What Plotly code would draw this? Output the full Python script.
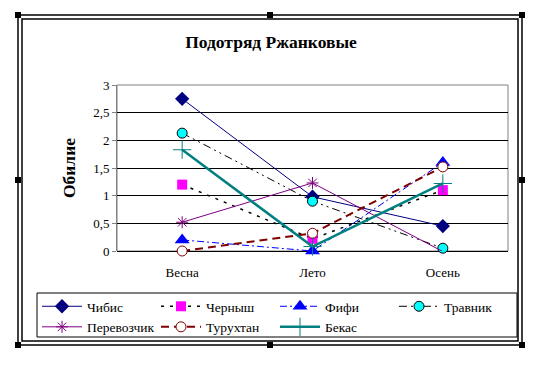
import plotly.graph_objects as go

categories = ["Весна", "Лето", "Осень"]
chibis = [2.75, 0.98, 0.45]
chernysh = [1.2, 0.22, 1.1]
fifi = [0.2, 0.0, 1.6]
travnik = [2.13, 0.9, 0.05]
perevozchik = [0.52, 1.23, -0.01]
turukhtan = [0.0, 0.32, 1.52]
bekas = [1.83, 0.08, 1.22]
y_ticks = [0, 0.5, 1, 1.5, 2, 2.5, 3]

W, H = 546, 367
L, R, T, B = 117, 508, 85, 251

series = [
    ("Чибис", chibis, dict(color="#000080", width=1), dict(symbol="diamond", size=11, color="#000080")),
    ("Черныш", chernysh, dict(color="black", width=1.5, dash="3px,6px"), dict(symbol="square", size=10, color="#FF00FF")),
    ("Фифи", fifi, dict(color="#0000FF", width=1, dash="7px,3px,2px,3px"), dict(symbol="triangle-up", size=13, color="#0000FF")),
    ("Травник", travnik, dict(color="black", width=1, dash="8px,4px,2px,4px,2px,4px"), dict(symbol="circle", size=10, color="#00FFFF", line=dict(color="black", width=1))),
    ("Перевозчик", perevozchik, dict(color="#800080", width=1), dict(symbol="asterisk-open", size=10, color="#800080", line=dict(color="#800080", width=1))),
    ("Турухтан", turukhtan, dict(color="#800000", width=2, dash="8px,5px"), dict(symbol="circle", size=10, color="white", line=dict(color="#800000", width=1))),
    ("Бекас", bekas, dict(color="#008080", width=2.5), dict(symbol="cross-thin-open", size=13, color="#008080", line=dict(color="#008080", width=1))),
]

fig = go.Figure()
for name, vals, line, marker in series:
    fig.add_trace(go.Scatter(x=categories, y=vals, name=name, mode="lines+markers",
                             line=line, marker=marker, cliponaxis=False))

def px_x(x): return (x - L) / (R - L)
def px_y(y): return (B - y) / (B - T)

shapes = []
for (x0, y0, x1, y1) in [(18, 15, 522, 345), (22, 19, 518, 341)]:
    shapes.append(dict(type="rect", xref="paper", yref="paper",
                       x0=px_x(x0), x1=px_x(x1), y0=px_y(y1), y1=px_y(y0),
                       line=dict(color="black", width=1.5), layer="above"))
for (hx, hy) in [(18, 15), (270, 15), (522, 15), (18, 180), (522, 180), (18, 345), (270, 345), (522, 345)]:
    shapes.append(dict(type="rect", xref="paper", yref="paper",
                       x0=px_x(hx - 3), x1=px_x(hx + 3), y0=px_y(hy + 3), y1=px_y(hy - 3),
                       line=dict(width=0), fillcolor="black", layer="above"))
shapes.append(dict(type="rect", xref="paper", yref="paper", x0=0, y0=0, x1=1, y1=1,
                   line=dict(color="#808080", width=1), layer="below"))
# legend box
shapes.append(dict(type="rect", xref="paper", yref="paper",
                   x0=px_x(37), x1=px_x(517), y0=px_y(337), y1=px_y(293),
                   line=dict(color="black", width=1), layer="above"))

SERIF = "Liberation Serif"
fig.update_layout(
    width=W, height=H,
    margin=dict(l=L, r=W - R, t=T, b=H - B, autoexpand=False),
    paper_bgcolor="white", plot_bgcolor="white",
    separators=", ",
    font=dict(family=SERIF, size=13, color="black"),
    title=dict(text="<b>Подотряд Ржанковые</b>", x=271 / W, xanchor="center",
               y=1 - 42 / H, yanchor="middle", font=dict(size=17.5, family=SERIF)),
    xaxis=dict(type="category", range=[-0.5, 2.5], showgrid=False, zeroline=False,
               showline=False, ticks="", tickfont=dict(size=13, family=SERIF), ticklabelstandoff=12),
    yaxis=dict(range=[0, 3], tickvals=y_ticks, showgrid=True, gridcolor="black", gridwidth=1,
               zeroline=True, zerolinecolor="black", zerolinewidth=1,
               showline=True, linecolor="#808080", ticks="outside", ticklen=4, tickcolor="#808080",
               tickfont=dict(size=13, family=SERIF),
               title=dict(text="<b>Обилие</b>", font=dict(size=17.5, family=SERIF), standoff=13)),
    legend=dict(orientation="h", x=px_x(37), y=px_y(291), xanchor="left", yanchor="top",
                borderwidth=0, bgcolor="rgba(0,0,0,0)",
                entrywidth=64, entrywidthmode="pixels", tracegroupgap=0,
                font=dict(size=13.5, family=SERIF), itemwidth=40),
    shapes=shapes,
    showlegend=True,
)
fig.write_html("out.html", config={"displayModeBar": False},
               post_script="document.body.style.margin='0';document.body.style.overflow='hidden';")
